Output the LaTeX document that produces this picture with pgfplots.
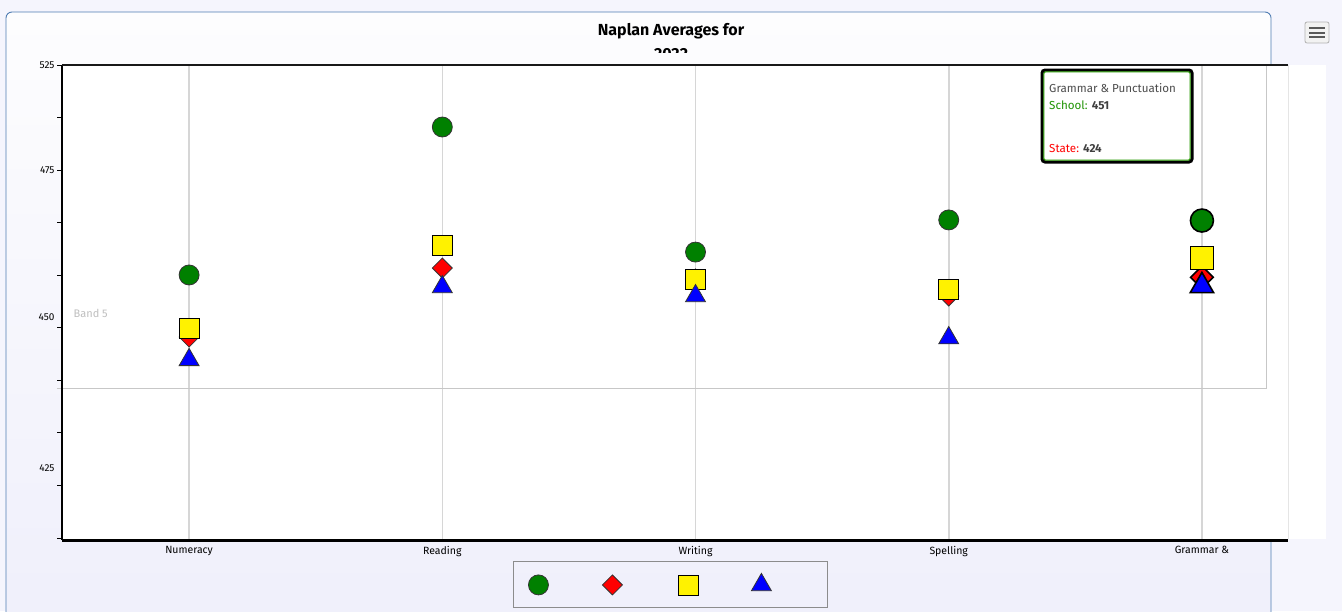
\documentclass[border=0pt]{standalone}
\usepackage{fontspec}
\setmainfont{Fira Sans}
\usepackage{pgfplots}
\pgfplotsset{compat=1.18}
\definecolor{panelborder}{HTML}{4F7DB3}
\definecolor{bgA}{HTML}{FDFDFE}
\definecolor{bgB}{HTML}{EFEFFB}
\definecolor{ngreen}{HTML}{008000}
\definecolor{gridgray}{HTML}{D6D6D6}
\pgfplotstableread{
x school state sim nat
0 425.1 395.6 399.9 384.7
1 495.5 428.4 439.4 419.4
2 436.0 423.2 423.2 415.1
3 451.3 415.1 418.4 395.1
}\maindata
\pgfplotstableread{
x school state sim nat
4 451.0 424.0 433.2 419.9
}\hoverdata
\begin{document}
\begin{tikzpicture}
\begin{scope}[x=1pt,y=1pt]
\path[use as bounding box] (0,0) rectangle (1342,-611);
\fill[bgB!60] (0,0) rectangle (1342,-611);
\shade[top color=bgA, bottom color=bgB, rounded corners=6pt]
  (6,-12) rectangle (1271,-640);
\draw[panelborder, line width=0.9pt, rounded corners=6pt] (6,-640) -- (6,-12) -- (1271,-12) -- (1271,-640);
% menu icon
\draw[black!30, fill=black!5, rounded corners=2pt, line width=0.8pt] (1305,-22) rectangle (1329,-43);
\foreach \yy in {-28,-32.5,-37}{\draw[black!65, line width=2pt] (1309,\yy) -- (1325,\yy);}
% title
\node[font=\fontsize{16}{18}\selectfont\bfseries] at (671,-31) {Naplan Averages for};
\begin{scope}
\clip (500,-40) rectangle (840,-52.5);
\node[font=\fontsize{16}{18}\selectfont\bfseries] at (671,-54.5) {2022};
\end{scope}
% right white strip
\fill[white] (1266,-65) rectangle (1326,-539);
\fill[black!10] (1283,-65) rectangle (1289,-539);
\end{scope}
\begin{axis}[
  at={(62pt,-540pt)}, anchor=south west, scale only axis,
  width=1226pt, height=475pt,
  xmin=-0.502, xmax=4.34, ymin=299, ymax=525,
  clip=false,
  axis background/.style={fill=white},
  x axis line style={draw=none}, y axis line style={draw=none},
  xtick={0,1,2,3,4},
  xticklabels={Numeracy,Reading,Writing,Spelling,Grammar \&},
  xtick style={draw=none},
  xmajorgrids, major x grid style={draw=gridgray, line width=1.6pt},
  ytick={300,325,...,525}, yticklabels={},
  tick pos=left, tick align=outside,
  ytick style={black, line width=0.8pt},
  major tick length=5pt,
  extra y ticks={525,475,405.2,333},
  extra y tick labels={525,475,450,425},
  extra y tick style={major tick length=0pt},
  /pgf/number format/assume math mode=true,
  tick label style={font=\fontsize{10.5}{12}\selectfont},
  yticklabel style={xshift=-4pt, font=\fontsize{10}{12}\selectfont},
  xticklabel style={yshift=2.5pt},
  legend style={at={(axis description cs:0.3679,-0.0442)}, anchor=north west,
     draw=black!45, line width=0.8pt, fill=none, legend columns=4,
     inner xsep=15pt, inner ysep=12pt},
  legend image code/.code={\draw[#1,mark repeat=2,mark phase=2] plot coordinates {(0pt,0pt)(12pt,0pt)(24pt,0pt)};},
]
% band 5
\draw[black!22, line width=0.8pt] (axis cs:-0.522,370.9) -- (axis cs:4.253,370.9) -- (axis cs:4.253,525);
\node[anchor=west, text=black!25, font=\fontsize{11}{13}\selectfont] at (axis cs:-0.47,407) {Band 5};
\addplot[only marks, mark=*, mark size=10pt, mark options={fill=ngreen, draw=black!80, line width=0.8pt}] table[x=x,y=school] {\maindata};
\addlegendentry{\hspace*{50pt}}
\addplot[only marks, mark=square*, mark size=7.07pt, mark options={fill=red, draw=black!80, line width=0.8pt, rotate=45}] table[x=x,y=state] {\maindata};
\addlegendentry{\hspace*{52pt}}
\addplot[only marks, mark=square*, mark size=10pt, mark options={fill=yellow, draw=black, line width=0.8pt}] table[x=x,y=sim] {\maindata};
\addlegendentry{\hspace*{49pt}}
\addplot[only marks, mark=triangle*, mark size=11.5pt, mark options={fill=blue, draw=black!80, line width=0.8pt}] table[x=x,y=nat] {\maindata};
\addlegendentry{\hspace*{37pt}}
% hovered category
\addplot[forget plot, only marks, mark=*, mark size=11.5pt, mark options={fill=ngreen, draw=black, line width=1.6pt}] table[x=x,y=school] {\hoverdata};
\addplot[forget plot, only marks, mark=square*, mark size=8pt, mark options={fill=red, draw=black, line width=1.6pt, rotate=45}] table[x=x,y=state] {\hoverdata};
\addplot[forget plot, only marks, mark=square*, mark size=11.5pt, mark options={fill=yellow, draw=black, line width=1.6pt}] table[x=x,y=sim] {\hoverdata};
\addplot[forget plot, only marks, mark=triangle*, mark size=13.5pt, mark options={fill=blue, draw=black, line width=1.6pt}] table[x=x,y=nat] {\hoverdata};
% axis lines
\draw[black, line width=2pt] (rel axis cs:0,0) -- (rel axis cs:0,1);
\draw[black!90, line width=2pt] (rel axis cs:0,1) -- (rel axis cs:1,1);
\draw[black, line width=3pt] (rel axis cs:0,0) -- (rel axis cs:1,0);
\end{axis}
\begin{scope}[x=1pt,y=1pt]
% tooltip
\fill[white] (1042,-70) rectangle (1192,-162);
\draw[black, line width=3pt, rounded corners=3pt] (1042,-70) rectangle (1192,-162);
\draw[ngreen!80!lime, line width=1pt, rounded corners=1.5pt] (1043.8,-71.8) rectangle (1190.2,-160.2);
\node[anchor=west, text=black!70, font=\fontsize{11.6}{13}\selectfont, inner sep=0pt] at (1049,-88) {Grammar \& Punctuation};
\node[anchor=west, font=\fontsize{11.6}{13}\selectfont, inner sep=0pt] at (1049,-105) {\textcolor{ngreen!85!lime}{School:} \textcolor{black!75}{\textbf{451}}};
\node[anchor=west, font=\fontsize{11.6}{13}\selectfont, inner sep=0pt] at (1049,-148) {\textcolor{red}{State:} \textcolor{black!75}{\textbf{424}}};
\end{scope}
\end{tikzpicture}
\end{document}
